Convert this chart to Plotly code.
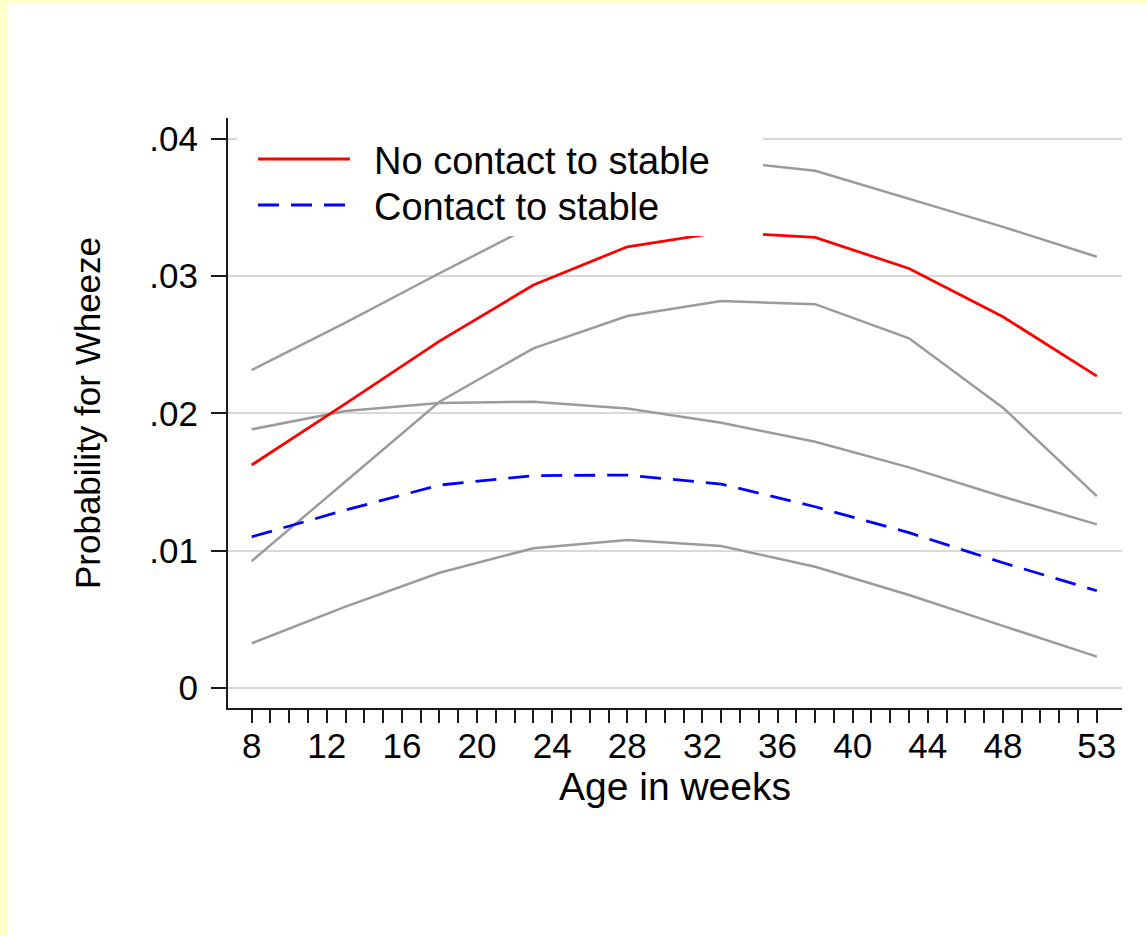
import plotly.graph_objects as go

# Predicted probability of wheeze by age, with 95% confidence bands
weeks = [8, 13, 18, 23, 28, 33, 38, 43, 48, 53]

no_contact = [0.01623, 0.0207, 0.02526, 0.02934, 0.03213, 0.0332, 0.03281, 0.03055, 0.02703, 0.02271]
no_contact_lo = [0.00923, 0.01503, 0.02084, 0.02473, 0.02708, 0.02817, 0.02795, 0.02546, 0.02041, 0.01397]
no_contact_hi = [0.02315, 0.0266, 0.0302, 0.0337, 0.0362, 0.0384, 0.03766, 0.03562, 0.03358, 0.0314]

contact = [0.0110, 0.01295, 0.01477, 0.01546, 0.0155, 0.01484, 0.01319, 0.0113, 0.00911, 0.00707]
contact_lo = [0.00324, 0.00591, 0.00838, 0.01017, 0.01076, 0.01033, 0.00882, 0.00676, 0.00451, 0.00227]
contact_hi = [0.01883, 0.02016, 0.02074, 0.02084, 0.02034, 0.01931, 0.01792, 0.01606, 0.01392, 0.01191]

legend_labels = ["No contact to stable", "Contact to stable"]

x_labelled = [8, 12, 16, 20, 24, 28, 32, 36, 40, 44, 48, 53]
x_ticks = list(range(8, 54))
x_ticktext = [str(v) if v in x_labelled else "" for v in x_ticks]
y_ticks = [0, 0.01, 0.02, 0.03, 0.04]
y_ticktext = ["0", ".01", ".02", ".03", ".04"]

W, H = 1147, 936
L, R, T, B = 228, 1122, 118, 708
FONT = "Liberation Sans, Arial, Helvetica, sans-serif"
GRAY = "#9b9b9b"


def px_x(px):
    return (px - L) / (R - L)


def px_y(py):
    return (B - py) / (B - T)


fig = go.Figure()

for band in (no_contact_hi, no_contact_lo, contact_hi, contact_lo):
    fig.add_trace(go.Scatter(x=weeks, y=band, mode="lines",
                             line=dict(color=GRAY, width=2.5),
                             showlegend=False, hoverinfo="skip"))

fig.add_trace(go.Scatter(x=weeks, y=no_contact, mode="lines", name=legend_labels[0],
                         line=dict(color="#ff0000", width=2.8), showlegend=False))
fig.add_trace(go.Scatter(x=weeks, y=contact, mode="lines", name=legend_labels[1],
                         line=dict(color="#0000ff", width=2.8, dash="21px,12px"),
                         showlegend=False))

shapes = [
    # pale frame along the top and left edges
    dict(type="rect", xref="paper", yref="paper", layer="above",
         x0=px_x(0), x1=px_x(7), y0=px_y(H + 5), y1=px_y(-5),
         fillcolor="#ffffcc", line=dict(width=0)),
    dict(type="rect", xref="paper", yref="paper", layer="above",
         x0=px_x(0), x1=px_x(W + 5), y0=px_y(4), y1=px_y(-5),
         fillcolor="#ffffcc", line=dict(width=0)),
    # legend box
    dict(type="rect", xref="paper", yref="paper", layer="above",
         x0=px_x(237), x1=px_x(763), y0=px_y(236), y1=px_y(121),
         fillcolor="white", line=dict(width=0)),
    dict(type="line", xref="paper", yref="paper", layer="above",
         x0=px_x(258), x1=px_x(350), y0=px_y(159), y1=px_y(159),
         line=dict(color="#ff0000", width=2.8)),
    dict(type="line", xref="paper", yref="paper", layer="above",
         x0=px_x(258), x1=px_x(350), y0=px_y(205), y1=px_y(205),
         line=dict(color="#0000ff", width=2.8, dash="21px,12px")),
]

annotations = [
    dict(xref="paper", yref="paper", x=px_x(372), y=px_y(161), text=legend_labels[0],
         showarrow=False, xanchor="left", yanchor="middle",
         font=dict(family=FONT, size=38, color="black")),
    dict(xref="paper", yref="paper", x=px_x(372), y=px_y(207), text=legend_labels[1],
         showarrow=False, xanchor="left", yanchor="middle",
         font=dict(family=FONT, size=38, color="black")),
]

fig.update_layout(
    width=W, height=H,
    margin=dict(l=L, r=W - R, t=T, b=H - B),
    paper_bgcolor="white", plot_bgcolor="white",
    font=dict(family=FONT, color="black"),
    shapes=shapes, annotations=annotations,
    showlegend=False,
)

fig.update_xaxes(
    range=[6.74, 54.34], tickmode="array", tickvals=x_ticks, ticktext=x_ticktext,
    ticks="outside", ticklen=13, tickwidth=2, tickcolor="#1a1a1a",
    showline=True, linecolor="#1a1a1a", linewidth=2, showgrid=False, zeroline=False,
    tickfont=dict(family=FONT, size=35, color="black"), ticklabelstandoff=-7,
    title=dict(text="Age in weeks", font=dict(family=FONT, size=39, color="black"), standoff=8),
)

fig.update_yaxes(
    range=[-0.00147, 0.04151], tickmode="array", tickvals=y_ticks, ticktext=y_ticktext,
    ticks="outside", ticklen=15, tickwidth=2, tickcolor="#1a1a1a",
    showline=True, linecolor="#1a1a1a", linewidth=2,
    showgrid=True, gridcolor="#d9d9d9", gridwidth=1.5, zeroline=False,
    tickfont=dict(family=FONT, size=35, color="black"), ticklabelstandoff=6,
    title=dict(text="Probability for Wheeze", font=dict(family=FONT, size=35, color="black"), standoff=38),
)

fig.write_html("out.html")
